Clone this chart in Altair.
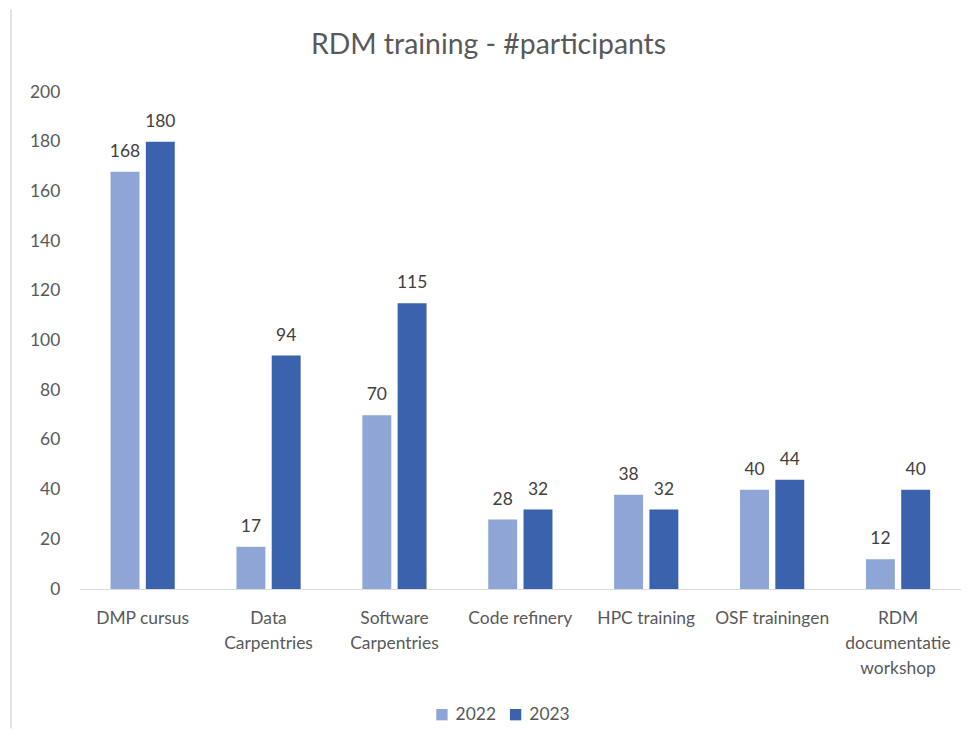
import altair as alt
import pandas as pd

categories = ["DMP cursus", "Data\nCarpentries", "Software\nCarpentries", "Code refinery",
              "HPC training", "OSF trainingen", "RDM\ndocumentatie\nworkshop"]
values_2022 = [168, 17, 70, 28, 38, 40, 12]
values_2023 = [180, 94, 115, 32, 32, 44, 40]
years = ["2022", "2023"]
colors = ["#8FA5D5", "#3B63AD"]
y_ticks = list(range(0, 201, 20))

rows = []
for c, a, b in zip(categories, values_2022, values_2023):
    rows.append({"cat": c, "year": "2022", "value": a})
    rows.append({"cat": c, "year": "2023", "value": b})
df = pd.DataFrame(rows)

W, H = 885, 499
FONT = "Lato"

base = alt.Chart(df).encode(
    x=alt.X("cat:N", sort=categories, title=None,
            scale=alt.Scale(paddingInner=0.49, paddingOuter=0.245),
            axis=alt.Axis(labelAngle=0, ticks=False, tickSize=0, labelPadding=21,
                          labelExpr="split(datum.label, '\\n')", labelLineHeight=25,
                          labelFontSize=17.5, labelColor="#595959", labelFont=FONT,
                          domainColor="#D9D9D9", labelLimit=200)),
    xOffset=alt.XOffset("year:N", sort=years, scale=alt.Scale(paddingInner=0.18)),
    y=alt.Y("value:Q", title=None,
            scale=alt.Scale(domain=[0, 200], nice=False),
            axis=alt.Axis(values=y_ticks, grid=False, domain=False, ticks=False, tickSize=0,
                          labelPadding=20, labelFontSize=17.5, labelColor="#595959",
                          labelFont=FONT)),
)

bars = base.mark_bar().encode(
    color=alt.Color("year:N", sort=years,
                    scale=alt.Scale(domain=years, range=colors),
                    legend=alt.Legend(title=None, orient="none", direction="horizontal",
                                      legendX=355, legendY=616, symbolType="square",
                                      symbolSize=130, symbolStrokeWidth=0,
                                      labelFontSize=17.5, labelColor="#595959",
                                      labelFont=FONT, columnPadding=10, labelOffset=5))
)

labels = base.mark_text(baseline="alphabetic", dy=-15, fontSize=17.5, color="#404040",
                        font=FONT).encode(text="value:Q")

border = alt.Chart(alt.Data(values=[{}])).mark_rule(color="#D9D9D9", strokeWidth=1.5).encode(
    x=alt.value(-69), y=alt.value(-83), y2=alt.value(H + 140)
)

chart = alt.layer(bars, labels, border).properties(
    width=W, height=H,
    title=alt.TitleParams("RDM training - #participants", fontSize=28.5, font=FONT,
                          fontWeight="normal", color="#595959", anchor="middle",
                          frame="group", dx=-32, offset=-51),
    autosize=alt.AutoSizeParams(type="none"),
    padding={"left": 72, "top": 83, "right": 0, "bottom": 140},
).configure_view(stroke=None)

chart.save("out.html", embed_options={"renderer": "svg", "actions": False})
